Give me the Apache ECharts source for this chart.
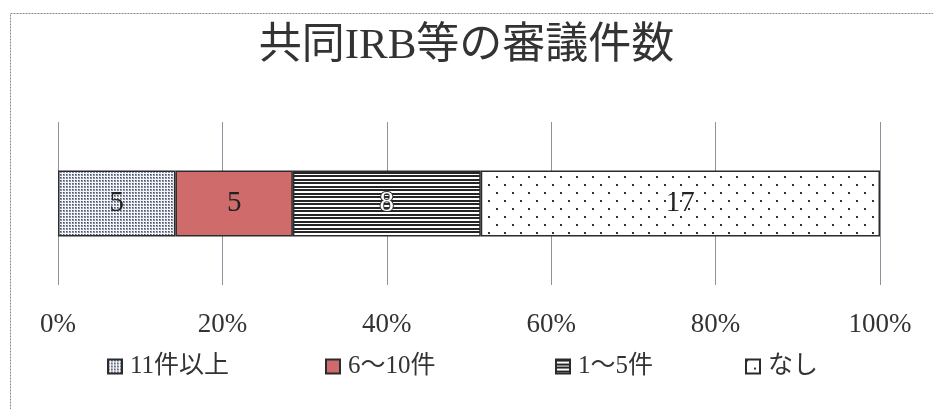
<!DOCTYPE html>
<html><head><meta charset="utf-8">
<script src="https://cdn.jsdelivr.net/npm/echarts@6/dist/echarts.min.js"></script>
<style>html,body{margin:0;padding:0;background:#fff}#c{width:933px;height:409px}</style>
</head><body><div id="c"></div>
<script>
const titleText = '共同IRB等の審議件数';
const seriesNames = ['11件以上', '6～10件', '1～5件', 'なし'];
const seriesValues = [5, 5, 8, 17];
const tickLabels = ['0%', '20%', '40%', '60%', '80%', '100%'];
const categories = [''];

function makePattern(w, h, bg, draw) {
  const c = document.createElement('canvas');
  c.width = w; c.height = h;
  const g = c.getContext('2d');
  g.fillStyle = bg; g.fillRect(0, 0, w, h);
  draw(g);
  return { image: c, repeat: 'repeat' };
}
const patDense = makePattern(3, 3, '#f4f5f9', g => { g.fillStyle = '#8a90a4'; g.fillRect(0, 0, 2, 2); g.fillStyle = '#4a5064'; g.fillRect(0, 0, 1, 1); });
const patLines = makePattern(4, 7, '#ffffff', g => { g.fillStyle = '#262626'; g.fillRect(0, 0, 4, 2); g.fillRect(0, 4, 4, 2); });
const patSparse = makePattern(16, 16, '#ffffff', g => { g.fillStyle = '#333'; g.fillRect(0, 0, 2, 2); g.fillRect(8, 8, 2, 2); });
const fills = [patDense, '#cf6b6b', patLines, patSparse];

const total = seriesValues.reduce((a, b) => a + b, 0);
const serif = '"Liberation Serif", "Noto Sans CJK JP", serif';
const legendLefts = [107, 325, 555, 745];

const chart = echarts.init(document.getElementById('c'), null, { renderer: 'canvas' });
chart.setOption({
  animation: false,
  backgroundColor: '#fff',
  graphic: [{
    type: 'rect', shape: { x: 10.5, y: 13.5, width: 1000, height: 500 },
    style: { fill: 'none', stroke: '#8a8a8a', lineWidth: 1, lineDash: [2, 1] }, silent: true
  }],
  title: {
    text: titleText, left: 'center', top: 20,
    textStyle: { fontFamily: serif, fontSize: 43, fontWeight: 'normal', color: '#333' }
  },
  legend: seriesNames.map((n, i) => ({
    data: [n], left: legendLefts[i], top: 354, padding: 0,
    itemWidth: 14, itemHeight: 14, icon: 'rect',
    textStyle: { fontFamily: serif, fontSize: 25, color: '#333', lineHeight: 22, padding: [0, 0, 0, 3] }
  })),
  grid: { left: 58, right: 53, top: 122, bottom: 124 },
  xAxis: {
    type: 'value', min: 0, max: 100, interval: 20,
    axisLine: { show: false }, axisTick: { show: false },
    splitLine: { show: true, lineStyle: { color: '#8d929c', width: 1 } },
    axisLabel: {
      margin: 26, fontFamily: serif, fontSize: 27, color: '#333',
      formatter: (v) => tickLabels[Math.round(v / 20)]
    }
  },
  yAxis: { type: 'category', data: categories, show: false },
  series: seriesNames.map((n, i) => ({
    name: n, type: 'bar', stack: 'all', barWidth: 66,
    data: [seriesValues[i] / total * 100],
    itemStyle: { color: fills[i], borderColor: '#2b2b2b', borderWidth: 1.5 },
    label: Object.assign({
      show: true, position: 'inside', formatter: () => String(seriesValues[i]),
      fontFamily: serif, fontSize: 29, color: '#222'
    }, i === 2 ? { color: '#ffffff', textBorderColor: '#333', textBorderWidth: 2 } : {})
  }))
});
</script></body></html>
